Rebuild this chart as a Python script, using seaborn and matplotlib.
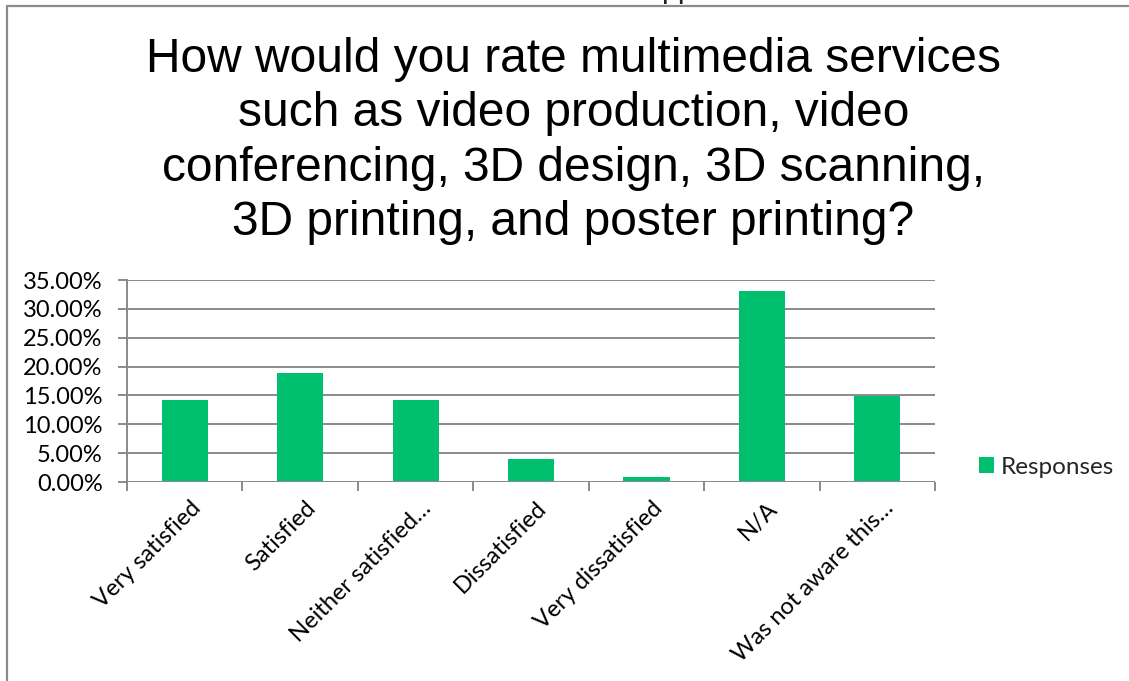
import matplotlib
matplotlib.use("Agg")
import matplotlib.pyplot as plt
import matplotlib.transforms as mtransforms
from matplotlib.lines import Line2D
from matplotlib.patches import Patch
from matplotlib.ticker import FixedLocator, PercentFormatter
import seaborn as sns

categories = [
    "Very satisfied",
    "Satisfied",
    "Neither satisfied…",
    "Dissatisfied",
    "Very dissatisfied",
    "N/A",
    "Was not aware this…",
]
responses = [0.1417, 0.1890, 0.1417, 0.0394, 0.0079, 0.3307, 0.1496]
y_ticks = [0.0, 0.05, 0.10, 0.15, 0.20, 0.25, 0.30, 0.35]
series_name = "Responses"
title = ("How would you rate multimedia services\n"
         "such as video production, video\n"
         "conferencing, 3D design, 3D scanning,\n"
         "3D printing, and poster printing?")

BAR = "#00BF6F"
GRID = "#8A8A8A"
LABEL_FONT = ["Lato", "DejaVu Sans"]

sns.set_theme(style="white")
plt.rcParams["font.family"] = LABEL_FONT

fig = plt.figure(figsize=(11.29, 6.81), dpi=100)
ax = fig.add_axes([0.1125, 0.2922, 0.7157, 0.2966])

sns.barplot(x=categories, y=responses, color=BAR, saturation=1,
            width=0.4, ax=ax, edgecolor="none")

ax.set_ylim(0, 0.35)
ax.set_xlim(-0.5, len(categories) - 0.5)
ax.yaxis.set_major_locator(FixedLocator(y_ticks))
ax.yaxis.set_major_formatter(PercentFormatter(xmax=1, decimals=2))
ax.set_axisbelow(True)
ax.grid(axis="y", color=GRID, linewidth=1.4)
ax.grid(axis="x", visible=False)

for side in ("top", "right", "bottom"):
    ax.spines[side].set_visible(False)
ax.spines["left"].set_color(GRID)
ax.spines["left"].set_linewidth(1.4)
ax.axhline(0, color=GRID, linewidth=1.4, zorder=3)

ax.tick_params(axis="y", left=True, length=6.5, width=1.4, color=GRID,
               pad=11, labelsize=17, labelcolor="black")
ax.set_xticks(range(len(categories)))
ax.set_xticklabels(categories, rotation=45, ha="right",
                   rotation_mode="anchor", fontsize=17, color="black")
ax.tick_params(axis="x", which="major", bottom=False, length=0, pad=11)
shift = mtransforms.ScaledTranslation(5 / 100, 0, fig.dpi_scale_trans)
for lbl in ax.get_xticklabels():
    lbl.set_transform(lbl.get_transform() + shift)
ax.xaxis.set_minor_locator(FixedLocator([i - 0.5 for i in range(len(categories) + 1)]))
ax.tick_params(axis="x", which="minor", bottom=True, length=6.5,
               width=1.4, color=GRID)
ax.set_xlabel("")
ax.set_ylabel("")

fig.text(0.508, 0.946, title, ha="center", va="top", fontsize=34.5,
         family="Liberation Sans", linespacing=1.27, color="black")

fig.legend(handles=[Patch(facecolor=BAR, edgecolor="none", label=series_name)],
           loc="center left", bbox_to_anchor=(0.848, 0.314), frameon=False,
           handlelength=0.6, handleheight=0.6, handletextpad=0.3,
           fontsize=17.5)

# chart frame (left and top edges) and the clipped heading above it
frame_kw = dict(color="#8C8C8C", linewidth=1.6, transform=fig.transFigure)
fig.add_artist(Line2D([7 / 1129, 7 / 1129], [0, 1 - 6 / 681], **frame_kw))
fig.add_artist(Line2D([7 / 1129, 1], [1 - 6 / 681, 1 - 6 / 681], **frame_kw))
fig.text(0.5855, 1 + 3 / 681, "pp", ha="left", va="baseline", fontsize=22,
         family="Liberation Sans", color="#222222")

fig.savefig("out.png", dpi=100)
